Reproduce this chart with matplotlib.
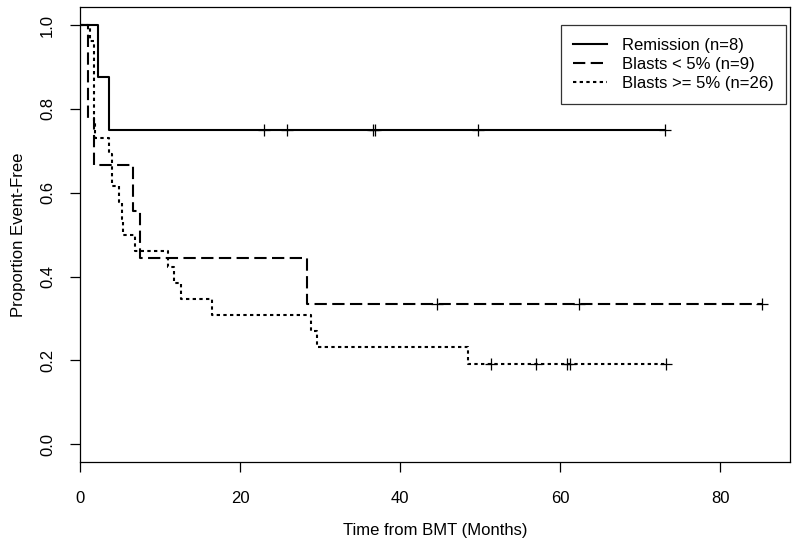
import matplotlib
matplotlib.use("Agg")
import matplotlib.pyplot as plt

plt.rcParams['font.family'] = ['Liberation Sans', 'DejaVu Sans']

# Event / censoring times (months)
remission_events = [2.2, 3.6]
remission_censored = [23.0, 25.9, 36.6, 36.9, 49.7, 73.1]

low_events = [1.0, 1.0, 1.7, 6.6, 7.5, 28.3]
low_censored = [44.6, 62.3, 85.2]

high_events = [1.2, 1.75, 1.75, 1.75, 1.75, 1.75, 1.9, 3.6, 4.0, 4.0,
               4.9, 5.2, 5.4, 6.9, 11.0, 11.8, 12.6, 16.5, 28.9, 29.6, 48.5]
high_censored = [51.4, 57.0, 60.8, 61.2, 73.2]

labels = ["Remission (n=8)", "Blasts < 5% (n=9)", "Blasts >= 5% (n=26)"]


def kaplan_meier(events, censored):
    n_risk = len(events) + len(censored)
    s = 1.0
    xs, ys = [0.0], [1.0]
    cx, cy = [], []
    for t in sorted(set(events + censored)):
        d = events.count(t)
        c = censored.count(t)
        if d:
            s *= 1 - d / n_risk
        xs.append(t)
        ys.append(s)
        if c:
            cx.append(t)
            cy.append(s)
        n_risk -= d + c
    return xs, ys, cx, cy


groups = [(remission_events, remission_censored, '-'),
          (low_events, low_censored, (0, (5.9, 2.6))),
          (high_events, high_censored, (0, (1.6, 1.6)))]

fs = 12

fig = plt.figure(figsize=(8, 5.45), dpi=100)
ax = fig.add_axes([0.1, 0.152, 0.8875, 0.835])

for (ev, ce, ls), lab in zip(groups, labels):
    xs, ys, cx, cy = kaplan_meier(ev, ce)
    ax.plot(xs, ys, drawstyle='steps-post', color='black', lw=1.5,
            linestyle=ls, label=lab)
    ax.plot(cx, cy, linestyle='none', marker='+', color='black',
            markersize=9, markeredgewidth=0.9)

ax.set_xlim(0, 88.7)
ax.set_ylim(-0.043, 1.043)
ax.set_xticks([0, 20, 40, 60, 80])
ax.set_yticks([0.0, 0.2, 0.4, 0.6, 0.8, 1.0])
ax.set_yticklabels(["0.0", "0.2", "0.4", "0.6", "0.8", "1.0"])
ax.tick_params(axis='both', direction='out', length=7, width=0.9,
               labelsize=fs)
ax.tick_params(axis='x', pad=14)
ax.tick_params(axis='y', pad=11, labelrotation=90)
for lbl in ax.get_yticklabels():
    lbl.set_va('center')

for sp in ax.spines.values():
    sp.set_linewidth(0.9)

ax.set_xlabel("Time from BMT (Months)", fontsize=fs, labelpad=12)
ax.set_ylabel("Proportion Event-Free", fontsize=fs, labelpad=10)

leg = ax.legend(loc='upper right', bbox_to_anchor=(0.9944, 0.9604),
                borderaxespad=0, fontsize=fs, frameon=True, fancybox=False,
                handlelength=2.0, handletextpad=0.9, labelspacing=0.26,
                borderpad=0.75)
leg.get_frame().set_edgecolor('black')
leg.get_frame().set_linewidth(0.9)

fig.savefig("out.png", dpi=100)
